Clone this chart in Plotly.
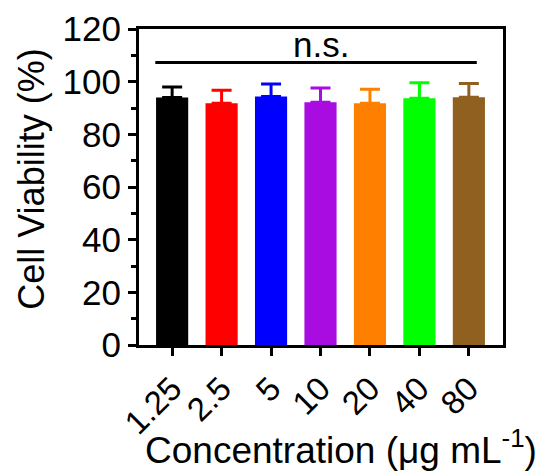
import plotly.graph_objects as go

categories = ["1.25", "2.5", "5", "10", "20", "40", "80"]
viability = [94.0, 91.8, 94.4, 92.2, 91.8, 93.7, 94.1]
errors = [4.0, 4.9, 4.7, 5.4, 5.3, 5.9, 5.2]
colors = ["#000000", "#FF0000", "#0000FF", "#A80CE0", "#FF8000", "#00FF00", "#906020"]
y_ticks = [0, 20, 40, 60, 80, 100, 120]
sig_label = "n.s."
sig_level = 107.3
x_title = "Concentration (μg mL<sup>-1</sup>)"
y_title = "Cell Viability (%)"

FONT = "Liberation Sans, Arial, sans-serif"
FS = 35
xpos = list(range(len(categories)))

fig = go.Figure()
for i, (c, v, e, col) in enumerate(zip(categories, viability, errors, colors)):
    fig.add_trace(go.Bar(
        x=[xpos[i]], y=[v], width=0.65,
        marker=dict(color=col, line=dict(width=0)),
        error_y=dict(type="data", array=[e], arrayminus=[0], symmetric=False,
                     color=col, thickness=3, width=10),
        showlegend=False,
    ))

fig.add_shape(type="line", xref="x", yref="y",
              x0=xpos[0] - 0.34, x1=xpos[-1] + 0.16, y0=sig_level, y1=sig_level,
              line=dict(color="black", width=3))
fig.add_annotation(x=(xpos[0] + xpos[-1]) / 2, y=sig_level, xref="x", yref="y",
                   text=sig_label, showarrow=False, yanchor="bottom", yshift=-4,
                   font=dict(family=FONT, size=FS, color="black"))

# axis titles as annotations (paper coords) to match the reference placement
fig.add_annotation(x=0.555, y=-0.325, xref="paper", yref="paper",
                   text=x_title, showarrow=False, xanchor="center", yanchor="middle",
                   font=dict(family=FONT, size=37, color="black"))
fig.add_annotation(x=-0.294, y=0.526, xref="paper", yref="paper",
                   text=y_title, showarrow=False, textangle=-90,
                   xanchor="center", yanchor="middle",
                   font=dict(family=FONT, size=36, color="black"))

# page body has an 8px default margin, so the figure is offset by 8px
fig.update_layout(
    width=541, height=468,
    margin=dict(l=131, r=46, t=21, b=131),
    plot_bgcolor="white", paper_bgcolor="white",
    font=dict(family=FONT, color="black"),
    bargap=0.35,
)
fig.update_xaxes(
    automargin=False,
    range=[-0.67, 6.69], tickmode="array", tickvals=xpos, ticktext=categories,
    tickangle=-45, ticks="outside", ticklen=8, tickwidth=3, tickcolor="black",
    showline=True, linewidth=3, linecolor="black", mirror=True,
    showgrid=False, zeroline=False,
    tickfont=dict(family=FONT, size=33, color="black"),
)
fig.update_yaxes(
    automargin=False,
    range=[0, 120], tickmode="array", tickvals=y_ticks,
    ticks="outside", ticklen=8, tickwidth=3, tickcolor="black",
    minor=dict(dtick=10, ticks="outside", ticklen=5, tickwidth=3, tickcolor="black"),
    showline=True, linewidth=3, linecolor="black", mirror=True,
    showgrid=False, zeroline=False,
    tickfont=dict(family=FONT, size=FS, color="black"),
)

fig.write_html("out.html")
